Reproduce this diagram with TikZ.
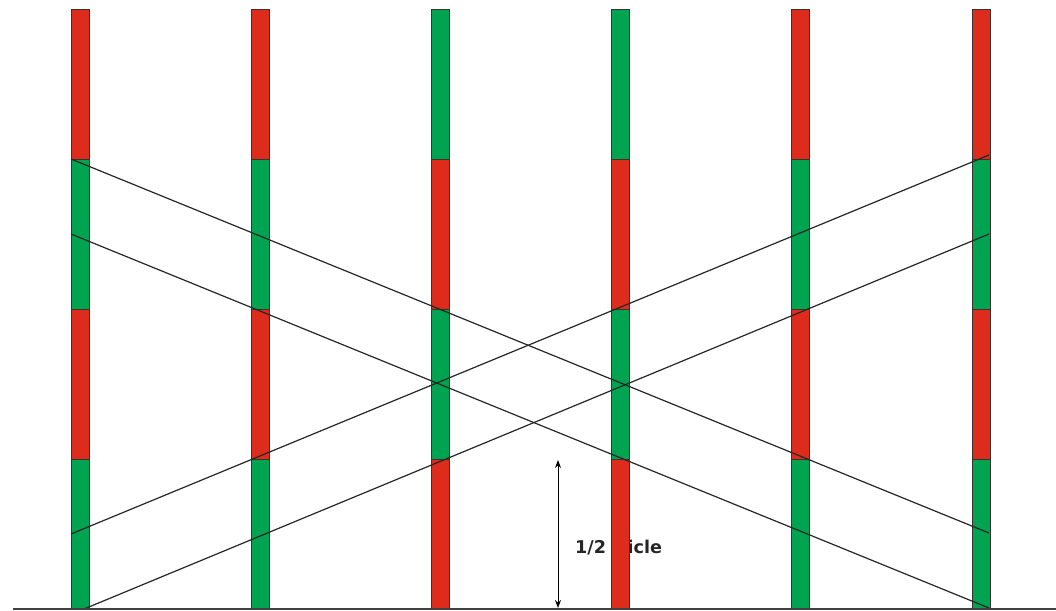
\documentclass[tikz,border=0pt]{standalone}
\usepackage{fontspec}
\newfontfamily\labelfont{DejaVu Sans}
\usetikzlibrary{arrows.meta}
\definecolor{barred}{RGB}{221,43,28}
\definecolor{bargreen}{RGB}{0,163,80}
\definecolor{edge}{RGB}{60,50,45}
\tikzset{
  seg/.style={draw=edge, line width=0.9pt, minimum width=18pt, minimum height=150pt,
              inner sep=0pt, outer sep=0pt, anchor=north west},
  rseg/.style={seg, fill=barred},
  gseg/.style={seg, fill=bargreen},
  wave/.style={draw=black!85, line width=1.2pt},
  baseline/.style={draw=black!75, line width=1.5pt},
  dim/.style={draw=black, line width=1pt, {Stealth[length=8pt,width=6pt]}-{Stealth[length=8pt,width=6pt]}}
}
\begin{document}
\begin{tikzpicture}[x=1pt,y=-1pt]
\useasboundingbox (0,0) rectangle (1056,610);
% label (partly hidden behind bar 4)
\node[anchor=base west, inner sep=0pt, font=\labelfont\bfseries\fontsize{17.6}{20}\selectfont, text=black!85] (lbl) at (575,553) {1/2\hspace{11pt}cicle};
% bars
\foreach \b/\x/\p in {1/71/0,2/251/0,3/431/1,4/611/1,5/791/0,6/972/0} {
  \foreach \s/\y in {1/9,2/159,3/309,4/459} {
    \pgfmathparse{int(mod(\s+\p,2))}
    \ifnum\pgfmathresult=1
      \node[rseg] (b\b s\s) at (\x,\y) {};
    \else
      \node[gseg] (b\b s\s) at (\x,\y) {};
    \fi
  }
}
% line end points
\coordinate (a1) at (71,159);  \coordinate (a2) at (989,533);
\coordinate (bb1) at (71,234); \coordinate (bb2) at (989,608);
\coordinate (c1) at (71,534);  \coordinate (c2) at (989,155);
\coordinate (d1) at (84,609);  \coordinate (d2) at (989,234);
\draw[wave] (a1) -- (a2);
\draw[wave] (bb1) -- (bb2);
\draw[wave] (c1) -- (c2);
\draw[wave] (d1) -- (d2);
% bottom line
\coordinate (g1) at (13,609); \coordinate (g2) at (1056,609);
\draw[baseline] (g1) -- (g2);
% half cycle arrow
\coordinate (h1) at (558,460); \coordinate (h2) at (558,608);
\draw[dim] (h1) -- (h2);
\end{tikzpicture}
\end{document}
